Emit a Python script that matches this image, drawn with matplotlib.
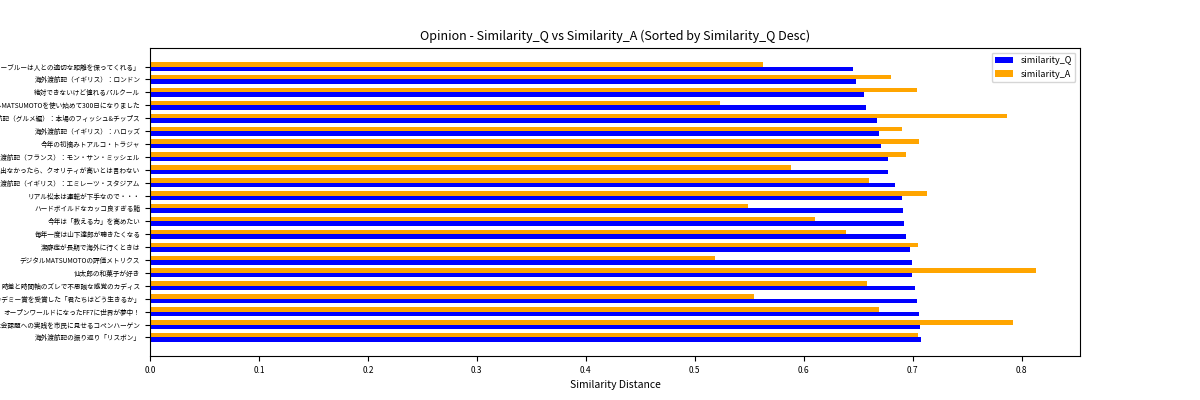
import matplotlib
matplotlib.use("Agg")
import matplotlib.pyplot as plt
import numpy as np

plt.rcParams['font.family'] = ['Noto Sans CJK JP', 'DejaVu Sans']

labels = [
    "ネイビーブルーを選ぶ理由と、続く「ネイビーブルーは人との適切な距離を保ってくれる」",
    "海外渡航記（イギリス）：ロンドン",
    "絶対できないけど憧れるパルクール",
    "デジタルMATSUMOTOを使い始めて300日になりました",
    "海外渡航記（グルメ編）：本場のフィッシュ&チップス",
    "海外渡航記（イギリス）：ハロッズ",
    "今年の初摘みトアルコ・トラジャ",
    "海外渡航記（フランス）：モン・サン・ミッシェル",
    "バリューが出なかったら、クオリティが高いとは言わない",
    "海外渡航記（イギリス）：エミレーツ・スタジアム",
    "リアル松本は運転が下手なので・・・",
    "ハードボイルドなカッコ良すぎる鮨",
    "今年は「教える力」を高めたい",
    "毎年一度は山下達郎が聴きたくなる",
    "潔癖症が長期で海外に行くときは",
    "デジタルMATSUMOTOの評価メトリクス",
    "仙太郎の和菓子が好き",
    "時差と時間軸のズレで不思議な感覚のカディス",
    "アカデミー賞を受賞した「君たちはどう生きるか」",
    "オープンワールドになったFF7に世界が夢中！",
    "海外渡航記（デンマーク）：社会課題への実践を市民に見せるコペンハーゲン",
    "海外渡航記の振り返り「リスボン」",
]
sim_q = [0.645, 0.648, 0.655, 0.657, 0.667, 0.669, 0.671, 0.677, 0.677, 0.684, 0.690,
         0.691, 0.692, 0.694, 0.698, 0.699, 0.699, 0.702, 0.704, 0.706, 0.707, 0.708]
sim_a = [0.563, 0.680, 0.704, 0.523, 0.787, 0.690, 0.706, 0.694, 0.588, 0.660, 0.713,
         0.549, 0.610, 0.639, 0.705, 0.519, 0.813, 0.658, 0.554, 0.669, 0.792, 0.705]

fig, ax = plt.subplots(figsize=(12, 4), dpi=100)
n = len(labels)
y = np.arange(n)[::-1]
h = 0.35
ax.barh(y - h/2, sim_q, height=h, color='blue', label='similarity_Q')
ax.barh(y + h/2, sim_a, height=h, color='orange', label='similarity_A')
ax.set_yticks(y)
ax.set_yticklabels(labels, fontsize=4.8)
ax.tick_params(axis='x', labelsize=6)
ax.set_xlabel('Similarity Distance', fontsize=7.5)
ax.set_title('Opinion - Similarity_Q vs Similarity_A (Sorted by Similarity_Q Desc)', fontsize=9)
ax.legend(loc='upper right', fontsize=6.5)
fig.savefig('out.png')
